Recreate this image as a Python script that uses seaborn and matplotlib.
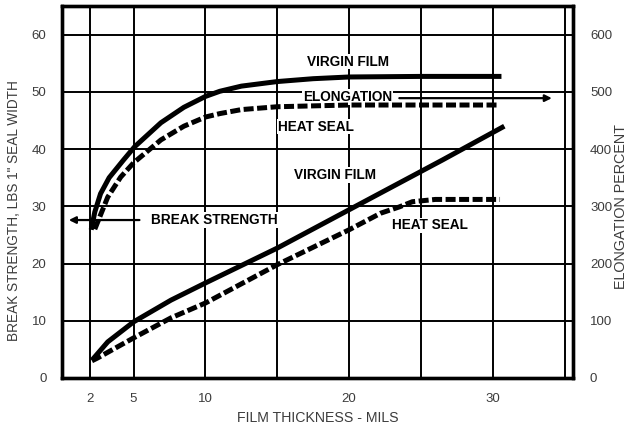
import matplotlib
matplotlib.use('Agg')
import matplotlib.pyplot as plt
import seaborn as sns

# break strength (lbs) vs film thickness (mils)
bs_virgin_x = [2.1, 3.2, 5, 7.6, 10, 15, 20, 26.5, 30.8]
bs_virgin_y = [3.1, 6.3, 9.8, 13.6, 16.6, 22.7, 29.4, 38.1, 44.0]
bs_heat_x = [2.1, 2.5, 5, 7.6, 10, 15, 20, 22.2, 23.5, 24.4, 26, 30.5]
bs_heat_y = [3.0, 3.5, 7.0, 10.5, 13.1, 19.8, 25.9, 28.8, 29.9, 30.8, 31.2, 31.2]

# elongation percent vs film thickness
el_virgin_x = [2.05, 2.3, 2.7, 3.3, 4.3, 5.07, 6.9, 8.5, 10, 11, 12.5, 15, 17.5, 20, 25, 30.6]
el_virgin_y = [259, 290, 322, 350, 381, 404, 446, 473, 492, 501, 510, 518, 523, 526, 527, 527]
el_heat_x = [2.3, 3.2, 4.1, 5, 6.9, 8.5, 10, 11, 12.5, 15, 20, 25, 30.5]
el_heat_y = [260, 316, 351, 376, 416, 440, 456, 462, 469, 474, 477, 477, 477]

x_ticks = [2, 5, 10, 20, 30]
x_grid = [2, 5, 10, 15, 20, 25, 30, 35]
y_ticks = [0, 10, 20, 30, 40, 50, 60]
y2_ticks = [0, 100, 200, 300, 400, 500, 600]

sns.set_style('white')
plt.rcParams['font.family'] = ['Liberation Sans', 'DejaVu Sans']

fig, ax = plt.subplots(figsize=(6.3, 4.3), dpi=100)
fig.subplots_adjust(left=0.098, right=0.91, top=0.986, bottom=0.121)
ax2 = ax.twinx()

ax.set_xlim(0, 35.6)
ax.set_ylim(0, 65)
ax2.set_ylim(0, 650)

for gx in x_grid:
    ax.axvline(gx, color='black', lw=1.4, zorder=1)
for gy in y_ticks[1:]:
    ax.axhline(gy, color='black', lw=1.4, zorder=1)

curve = dict(color='black', lw=3.6, zorder=3)
dash = (0, (2.0, 0.7))
sns.lineplot(x=bs_virgin_x, y=bs_virgin_y, ax=ax, solid_capstyle='butt', **curve)
sns.lineplot(x=bs_heat_x, y=bs_heat_y, ax=ax, linestyle=dash, **curve)
sns.lineplot(x=el_virgin_x, y=el_virgin_y, ax=ax2, solid_capstyle='butt', **curve)
sns.lineplot(x=el_heat_x, y=el_heat_y, ax=ax2, linestyle=dash, **curve)

lbl = dict(fontsize=9.8, fontweight='heavy', color='black', ha='center', va='center',
           zorder=4, bbox=dict(facecolor='white', edgecolor='none', pad=0.5))
ax.text(19.95, 55.3, 'VIRGIN FILM', **lbl)
ax.text(19.9, 49.1, 'ELONGATION', **lbl)
ax.text(17.7, 43.9, 'HEAT SEAL', **lbl)
ax.text(19.0, 35.5, 'VIRGIN FILM', **lbl)
ax.text(25.6, 26.7, 'HEAT SEAL', **lbl)
ax.text(10.6, 27.6, 'BREAK STRENGTH', **lbl)

ax.annotate('', xy=(34.3, 48.9), xytext=(23.3, 48.9), zorder=4,
            arrowprops=dict(arrowstyle='-|>', color='black', lw=1.6, mutation_scale=10))
ax.annotate('', xy=(0.3, 27.6), xytext=(5.6, 27.6), zorder=4,
            arrowprops=dict(arrowstyle='-|>', color='black', lw=1.6, mutation_scale=10))

tick_color = '#3c3c3c'
ax.set_xticks(x_ticks)
ax.set_yticks(y_ticks)
ax2.set_yticks(y2_ticks)
ax.tick_params(axis='both', length=0, labelsize=9.5, labelcolor=tick_color)
ax.tick_params(axis='x', pad=11)
ax.tick_params(axis='y', pad=11)
ax2.tick_params(axis='y', length=0, labelsize=9.5, labelcolor=tick_color, pad=12)

ax.set_xlabel('FILM THICKNESS - MILS', fontsize=10.2, color=tick_color)
ax.xaxis.set_label_coords(0.5, -0.09)
ax.set_ylabel('BREAK STRENGTH, LBS 1" SEAL WIDTH', fontsize=9.8, color=tick_color)
ax.yaxis.set_label_coords(-0.08, 0.45)
ax2.set_ylabel('ELONGATION PERCENT', fontsize=10.4, color=tick_color, rotation=90)
ax2.yaxis.set_label_coords(1.079, 0.46)

for a in (ax, ax2):
    for s in a.spines.values():
        s.set_linewidth(2.4)
        s.set_color('black')

fig.savefig('out.png', dpi=100)
